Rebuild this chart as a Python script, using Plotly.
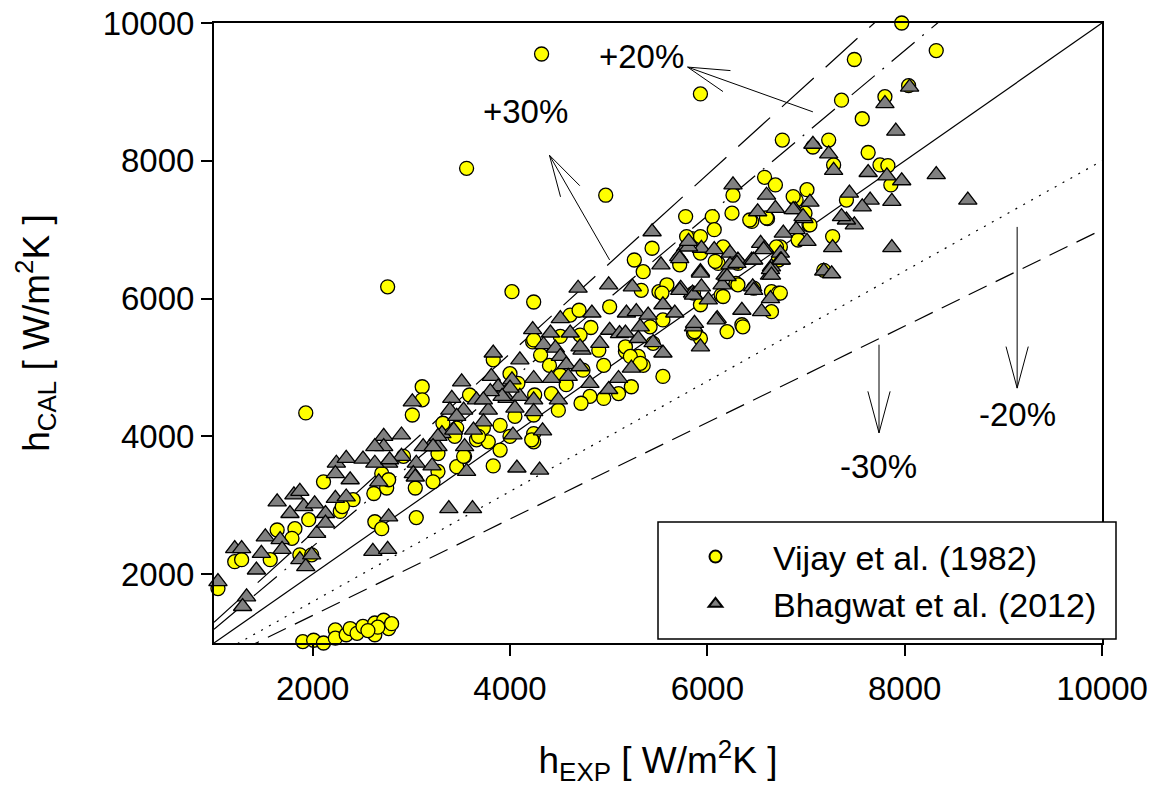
import math
import plotly.graph_objects as go

# ---------------- data ----------------
vijay_x = [7970, 8320, 7490, 5930, 7360, 7800, 8040, 7570, 6760, 7070, 7230, 7280, 7630, 7750, 7830, 7860,
           7410, 7270, 7180, 6920, 7030, 6900, 6870, 7010, 6990, 6740, 6580, 6690, 6610, 6450, 6260, 5780,
           6050, 6250, 6070, 5440, 5260, 5350, 5840, 5930, 5710, 6160, 6310, 6110, 6290, 6720, 6470, 6650,
           6720, 5330, 5510, 6140, 4970, 6430, 6600, 7040, 6700, 6650, 6350, 6200, 5930, 5860, 5450, 5930,
           5860, 5590, 6360, 6740, 5540, 5930, 6160, 6310,
           4320, 3560, 2760, 4020, 4240, 1930,
           5010, 4610, 4700, 4820, 4230, 4710, 4510, 4310, 4400, 4740, 4510, 4570, 4900, 4950, 5170, 5300,
           5350, 5100, 4950, 4810, 4720, 5230, 5170, 5550, 5420, 5550, 5790, 5720, 6080, 3110, 3110, 3010,
           3590, 3830, 4000, 4080, 4250, 4050, 4420, 4490, 3730, 3900, 4000, 3900, 3660, 3780, 4240, 4240,
           3830, 3460, 3320, 3440, 3540, 3460, 3270, 3270, 4240, 4240, 4220, 5220, 5320, 5870,
           1040, 1210, 1280, 1570, 1640, 1820, 1960, 1790, 1870, 1990, 2110, 2280, 2410, 2700, 2620, 2750,
           2920, 3040, 2630, 2700, 3050, 3220, 3530, 3680, 2770, 2300,
           1900, 2010, 2110, 2230, 2230, 2340, 2380, 2450, 2510, 2630, 2630, 2720, 2770, 2800, 2660, 2560]
vijay_y = [10000, 9600, 9470, 8970, 8880, 8930, 9090, 8610, 8300, 8200, 8300, 7940, 8120, 7940, 7930, 7650,
           7430, 6900, 6410, 6850, 7070, 7430, 7480, 7580, 7240, 6750, 7760, 7650, 7160, 7120, 7500, 7190,
           7190, 7240, 7000, 6730, 6560, 6390, 6870, 6900, 6560, 6750, 6510, 6510, 6220, 6560, 6150, 6100,
           6080, 6120, 6100, 6050, 7500, 7140, 7170, 7070, 6750, 5810, 5620, 5520, 5420, 5500, 5350, 6660,
           6080, 6200, 5590, 6080, 6080, 5910, 6030, 6200,
           9550, 7890, 6170, 6100, 5950, 4340,
           5880, 5760, 5830, 5580, 5370, 5470, 5450, 5180, 5030, 4960, 4890, 4750, 5250, 5030, 5230, 5160,
           5030, 4620, 4550, 4580, 4480, 4720, 5300, 4870, 5590, 5690, 6900, 6490, 6540, 4720, 4530, 4310,
           4600, 5110, 4910, 4770, 4600, 4290, 4620, 4380, 4120, 4160, 4000, 3800, 3950, 3920, 4040, 3920,
           3570, 4120, 4190, 4000, 3710, 3560, 3750, 3490, 5400, 4310, 3950, 5160, 5060, 5520,
           1790, 2180, 2210, 2210, 2640, 2660, 2790, 2520, 2280, 2280, 3340, 2910, 3080, 3460, 3170, 3250,
           3710, 3250, 2760, 2660, 2820, 3340, 3710, 4000, 3370, 2980,
           1020, 1040, 1000, 1190, 1070, 1120, 1210, 1140, 1240, 1290, 1120, 1330, 1210, 1280, 1230, 1180]

bhagwat_x = [7800, 8050, 7910, 7070, 7230, 7280, 7630, 7820, 7970, 8320, 8640, 7870, 7870, 7650, 7570, 7440,
             7490, 7410, 7360, 7270, 7180, 7260, 7010, 6980, 6900, 6890, 7040, 6740, 6600, 6690, 6510, 6540,
             6580, 6260, 5440, 5530, 5780, 5710, 5940, 6070, 6230, 6310, 5930, 6180, 6450, 6650, 6630, 6460,
             5000, 5240, 5730, 5850,
             6870, 6970, 6740, 6640, 6640, 6550, 6350, 6100, 5930, 5550, 6230, 5810, 6770,
             4690, 4830, 4510, 4230, 4410, 4610, 5010, 5110, 4340, 4460, 4510, 4730, 4570, 4710, 4590, 4420,
             4810, 5230, 5100, 5000, 5170, 5320, 5300, 5450, 5670, 5550, 5720, 5860, 6010, 5930, 5940, 6150,
             6200, 6650, 6470, 6750, 6570, 6470, 6300, 5810, 5720, 5860, 6090,
             3010, 3510, 3410, 3390, 3660, 3530, 3780, 3830, 3810, 3880, 3970, 4100, 4240, 4240, 4050, 4240,
             4490, 3730, 4030, 4330, 4070, 4300, 3460, 3310, 3560, 3270, 3190, 3210, 3050, 2900, 2900, 2720,
             2720, 2770, 3020,
             1040, 1210, 1280, 1330, 1290, 1430, 1480, 1520, 1640, 1670, 1690, 1810, 1870, 1770, 1910, 2020,
             2040, 1870, 1930, 1990, 2130, 2130, 2230, 2240, 2340, 2510, 2230, 2380, 2340, 2630, 2630, 2780,
             2670, 3040, 2610, 2760, 2770, 3380, 3620, 3120, 3270, 3430, 5870, 5180, 5280, 5400, 4710, 4910,
             4100, 4020, 4000, 3920, 3800, 3730, 3630, 3540, 3220]
bhagwat_y = [8830, 9070, 8430, 8240, 8100, 7860, 7830, 7780, 7710, 7800, 7430, 7410, 6740, 7430, 7330, 7530,
             7070, 7140, 7190, 6740, 6400, 6360, 6830, 7160, 7000, 7290, 7400, 6660, 7500, 7310, 7260, 6800,
             6730, 7650, 6970, 6490, 6750, 6610, 6730, 6710, 6660, 6560, 6390, 6340, 6560, 6460, 6340, 6170,
             6200, 6170, 6150, 6080,
             7290, 7190, 6560, 6420, 6000, 5810, 5830, 5710, 5300, 5210, 6490, 6750, 6950,
             6150, 5790, 5710, 5550, 5500, 5500, 5540, 5490, 5330, 5280, 5160, 5250, 5040, 5010, 4870, 4840,
             4770, 4990, 4840, 4680, 5500, 5590, 5420, 5360, 5790, 5910, 6120, 6050, 5980, 6370, 6170, 6200,
             6320, 6340, 6120, 6560, 6710, 6560, 6510, 6830, 6580, 5590, 5690,
             4500, 4790, 4550, 4380, 4530, 4380, 4380, 5210, 4870, 4720, 4550, 4580, 4530, 4840, 4410, 4360,
             4530, 4210, 4020, 4080, 3540, 3510, 4290, 4040, 3490, 3850, 3850, 3570, 3610, 4020, 3710, 4000,
             3850, 3610, 3460,
             1890, 2370, 2370, 1670, 1530, 2060, 2300, 2540, 3050, 2500, 2360, 3150, 3200, 2880, 2980, 3020,
             2590, 2210, 2110, 2280, 2880, 2740, 3100, 3610, 3680, 3670, 3460, 3370, 3120, 3850, 3610, 3660,
             3340, 3410, 2330, 2360, 2830, 2950, 2950, 3850, 4000, 4090, 5640, 5790, 5810, 5760, 5300, 5350,
             5110, 4820, 4700, 4580, 4650, 4530, 4090, 3850, 3850]

# deviation lines y = f * x
ref_factors = [1.3, 1.2, 1.0, 0.8, 0.7]
ref_dashes = ["43px,16px", "30px,10px,2px,10px", "solid", "2px,7px", "20px,10px"]
line_x = [1000, 10000]

# annotation labels: text, label position, arrow tail and tip
labels = ["+20%", "+30%", "-20%", "-30%"]
label_x = [5330, 4160, 9140, 7730]
label_y = [9510, 8710, 4320, 3560]
tail_x = [7070, 5010, 9140, 7740]
tail_y = [8710, 6560, 7040, 5330]
tip_x = [5800, 4400, 9140, 7740]
tip_y = [9360, 8080, 4700, 4050]

axis_ticks = [2000, 4000, 6000, 8000, 10000]

# ---------------- figure ----------------
FONT = "Liberation Sans, Arial, sans-serif"
W, H = 1160, 786
ML, MR, MT, MB = 214, 58, 23, 143
X0, X1, Y0, Y1 = 1000, 10000, 1000, 10000
PW, PH = W - ML - MR, H - MT - MB
sx = PW / (X1 - X0)
sy = PH / (Y1 - Y0)

fig = go.Figure()

for f, d in zip(ref_factors, ref_dashes):
    fig.add_trace(go.Scatter(x=line_x, y=[f * v for v in line_x], mode="lines",
                             line=dict(color="black", width=1.2, dash=d),
                             showlegend=False, hoverinfo="skip"))

fig.add_trace(go.Scatter(x=vijay_x, y=vijay_y, mode="markers", name="Vijay et al. (1982)",
                         cliponaxis=False,
                         marker=dict(symbol="circle", size=14, color="#FFFF00",
                                     line=dict(color="black", width=1.3))))
fig.add_trace(go.Scatter(x=bhagwat_x, y=bhagwat_y, mode="markers", name="Bhagwat et al. (2012)",
                         cliponaxis=False,
                         marker=dict(symbol="triangle-up", size=16, color="#808080",
                                     line=dict(color="black", width=1.3))))


def arrow_path(tx, ty, px, py, length=43, ang=15):
    dx = (tx - px) * sx
    dy = (ty - py) * sy
    n = math.hypot(dx, dy)
    ux, uy = dx / n, dy / n
    wings = []
    for s in (1, -1):
        a = math.radians(ang * s)
        wx = ux * math.cos(a) - uy * math.sin(a)
        wy = ux * math.sin(a) + uy * math.cos(a)
        wings.append((px + wx * length / sx, py + wy * length / sy))
    return (f"M{tx},{ty} L{px},{py} M{wings[0][0]},{wings[0][1]} "
            f"L{px},{py} L{wings[1][0]},{wings[1][1]}")


for i in range(len(labels)):
    fig.add_shape(type="path", xref="x", yref="y",
                  path=arrow_path(tail_x[i], tail_y[i], tip_x[i], tip_y[i]),
                  line=dict(color="black", width=1))
    fig.add_annotation(x=label_x[i], y=label_y[i], xref="x", yref="y", text=labels[i],
                       showarrow=False, font=dict(family=FONT, size=33, color="black"))

# legend frame (white box over the markers, the legend entries sit on top of it)
box_l, box_r, box_t, box_b = 658, 1116, 522, 639
fig.add_shape(type="rect", xref="paper", yref="paper", layer="above",
              x0=(box_l - ML) / PW, x1=(box_r - ML) / PW,
              y0=(H - MB - box_b) / PH, y1=(H - MB - box_t) / PH,
              fillcolor="white", line=dict(color="black", width=1.5))

axis_common = dict(
    tickvals=axis_ticks, ticktext=[str(t) for t in axis_ticks],
    ticks="outside", ticklen=11, tickwidth=1.5, tickcolor="black",
    showline=True, linewidth=2, linecolor="black", mirror=True,
    showgrid=False, zeroline=False, automargin=False,
    tickfont=dict(family=FONT, size=33, color="black"),
)

fig.update_xaxes(**axis_common, range=[X0, X1], ticklabelstandoff=4,
                 title=dict(text="h<sub>EXP</sub> [ W/m<sup>2</sup>K ]",
                            font=dict(family=FONT, size=37, color="black"), standoff=45))
fig.update_yaxes(**axis_common, range=[Y0, Y1],
                 title=dict(text="h<sub>CAL</sub> [ W/m<sup>2</sup>K ]",
                            font=dict(family=FONT, size=37, color="black"), standoff=42))

fig.update_layout(
    width=W, height=H,
    margin=dict(l=ML, r=MR, t=MT, b=MB),
    paper_bgcolor="white", plot_bgcolor="white",
    font=dict(family=FONT, color="black"),
    legend=dict(x=(box_l - ML) / PW, y=(H - MB - 528) / PH, xanchor="left", yanchor="top",
                bgcolor="rgba(0,0,0,0)", borderwidth=0,
                font=dict(family=FONT, size=34, color="black"),
                itemsizing="constant", itemwidth=105, tracegroupgap=0),
    showlegend=True,
)

fig.write_html("out.html")
